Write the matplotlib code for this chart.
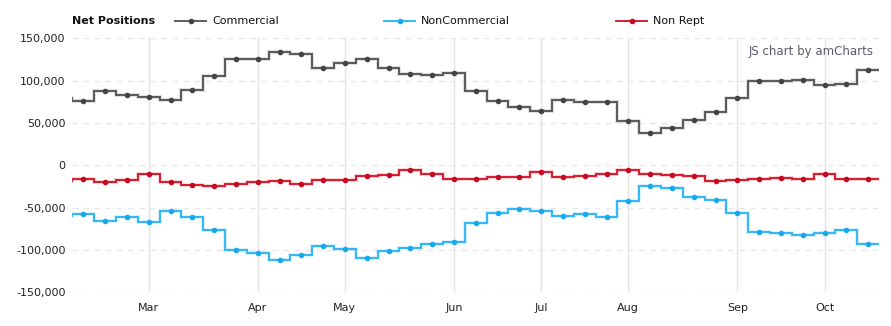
import numpy as np
import pandas as pd
import matplotlib
matplotlib.use("Agg")
from matplotlib import pyplot as plt
from matplotlib.lines import Line2D
from matplotlib.ticker import FuncFormatter

# weekly report dates (first one is just left of the visible area)
dates = pd.date_range("2016-02-02", periods=38, freq="7D")

commercial = [79000, 76500, 87600, 83600, 80100, 77700, 88800, 106000, 126100, 126100,
              133500, 131300, 115500, 121400, 126100, 115500, 107700, 106100, 109600, 87200,
              75800, 68300, 64700, 77000, 74200, 74200, 52200, 37600, 43500, 53400,
              62800, 79400, 99000, 99000, 101300, 94300, 95900, 112400]
noncommercial = [-59500, -57700, -65200, -61600, -67500, -54500, -61600, -77000, -100600, -103000,
                 -111400, -106500, -95100, -99400, -110000, -101800, -98200, -93500, -90700, -68700,
                 -56500, -52200, -53400, -59300, -58100, -60500, -41600, -23900, -27400, -38000,
                 -40400, -56500, -78900, -80500, -82100, -80500, -76600, -93500]
nonrept = [-18000, -15600, -19500, -17900, -9700, -20300, -23400, -25000, -21500, -20300,
           -18900, -21500, -17900, -17900, -13200, -11600, -6100, -9700, -16700, -15600,
           -14400, -14400, -8500, -14400, -13200, -10800, -6100, -10800, -12000, -12800,
           -19100, -17900, -16700, -15200, -16700, -10400, -15600, -15600]

series = [
    ("Commercial", commercial, "#555555", "#444444"),
    ("NonCommercial", noncommercial, "#2bb5f5", "#1aa8ec"),
    ("Non Rept", nonrept, "#d7132a", "#c40a20"),
]

W, H = 891, 326
fig = plt.figure(figsize=(W / 100, H / 100), dpi=100)
ax = fig.add_axes([72.4 / W, 1 - 292.3 / H, (879 - 72.4) / W, (292.3 - 38.3) / H])

x = np.arange(len(dates)) - 1
edges = np.arange(len(dates) + 1) - 1.5

for name, vals, col, dotcol in series:
    ax.stairs(vals, edges, baseline=None, color=col, lw=2.8, alpha=0.18, zorder=2)
    ax.stairs(vals, edges, baseline=None, color=col, lw=1.35, zorder=3)
    ax.plot(x, vals, "o", color=dotcol, ms=3.0, zorder=4)

ax.set_xlim(-0.5, 36.5)
ax.set_ylim(-150000, 150000)
ax.set_yticks(np.arange(-150000, 150001, 50000))
ax.yaxis.set_major_formatter(FuncFormatter(lambda v, p: f"{int(v):,}"))

# month labels at first report of each month
ticks, labels = [], []
for i in range(1, len(dates)):
    if dates[i].month != dates[i - 1].month:
        ticks.append(x[i])
        labels.append(dates[i].strftime("%b"))
ax.set_xticks(ticks)
ax.set_xticklabels(labels)

for s in ax.spines.values():
    s.set_visible(False)
ax.tick_params(length=0, labelsize=8, colors="#222222")
ax.tick_params(axis="y", pad=5)
ax.tick_params(axis="x", pad=8)
ax.grid(axis="y", color="#e8e8e8", lw=1, ls=(0, (4, 4)))
ax.grid(axis="x", color="#e2e2e2", lw=1)
ax.set_axisbelow(True)

# legend
ly = 1 - 21 / H
fig.text(72 / W, ly, "Net Positions", fontsize=8, fontweight="bold", va="center", color="#111111")
for (name, vals, col, dotcol), lx in zip(series, [175, 384, 616]):
    fig.add_artist(Line2D([lx / W, (lx + 31) / W], [ly, ly], color=col, lw=1.35))
    fig.add_artist(Line2D([(lx + 16) / W], [ly], marker="o", color=dotcol, ms=3.0))
    fig.text((lx + 37) / W, ly, name, fontsize=8, va="center", color="#111111")

fig.text(874 / W, 1 - 52 / H, "JS chart by amCharts", fontsize=8.5, ha="right", va="center",
         color="#5a5a6a")

fig.savefig("out.png", dpi=100)
